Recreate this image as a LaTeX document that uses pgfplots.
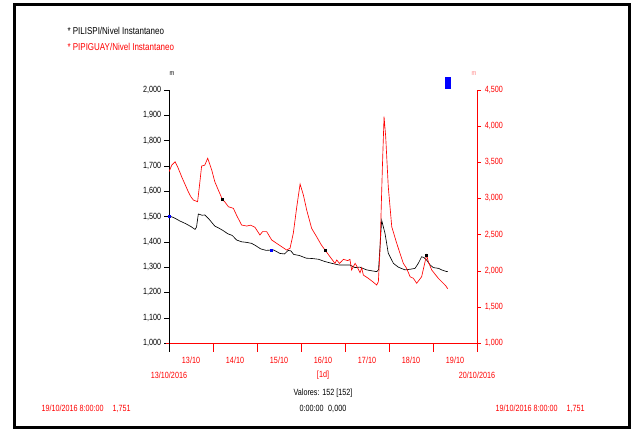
\documentclass[border=0pt]{standalone}
\usepackage{fontspec}
\setmainfont{Liberation Sans}[FakeStretch=0.8]
\usepackage{pgfplots}
\pgfplotsset{compat=1.18}
\definecolor{pred}{RGB}{255,0,0}
\begin{document}
\begin{tikzpicture}[x=1pt,y=1pt]
\useasboundingbox (0,0) rectangle (632,430);
\draw[line width=3pt] (14,2.5) rectangle (629,425.5);
% legend / header texts
\node[anchor=west,font=\fontsize{10}{12}\selectfont,black] at (64,399) {* PILISPI/Nivel Instantaneo};
\node[anchor=west,font=\fontsize{10}{12}\selectfont,pred] at (64,383) {* PIPIGUAY/Nivel Instantaneo};
\node[font=\fontsize{7}{8}\selectfont,black] at (172,356) {m};
\node[font=\fontsize{7}{8}\selectfont,pred!50] at (474,356) {m};
\fill[blue] (445,341) rectangle (451,353);
\begin{axis}[
  at={(169pt,87pt)}, anchor=south west, scale only axis,
  width=308pt, height=253pt,
  xmin=0, xmax=168, ymin=1000, ymax=2000,
  axis x line*=bottom, axis y line*=left,
  x axis line style={pred,-}, y axis line style={black,-},
  tick align=outside,
  xtick={0,24,...,168}, xticklabels={},
  xtick style={pred, /pgfplots/major tick length=9pt},
  extra x ticks={12,36,...,156},
  extra x tick labels={13/10,14/10,15/10,16/10,17/10,18/10,19/10},
  extra x tick style={xtick style={/pgfplots/major tick length=0pt},
     xticklabel style={yshift=-6pt}},
  xticklabel style={pred, font=\fontsize{9}{10}\selectfont},
  ytick={1000,1100,...,2000},
  ytick style={black, /pgfplots/major tick length=5pt},
  yticklabel style={black, font=\fontsize{9}{10}\selectfont,
     /pgf/number format/.cd, fixed, 1000 sep={,}, assume math mode=true},
]
\addplot[black, line width=0.65pt] table {
0 1503
3 1494
6 1482
9 1472
12 1460
14.2 1449
15 1458
16 1510
18 1505
19.6 1506
22 1488
25 1462
27 1455
29.6 1444
32 1432
34.5 1425
36.9 1407
39.6 1400
42 1398
45 1394
47 1386
50 1372
53 1366
57 1368
60.5 1354
63 1352
65 1366
66.5 1364
68 1350
71 1346
75 1335
78 1334
81.5 1331
85 1322
88.7 1315
93 1308
98.7 1308
101.5 1298
104 1300
107.8 1289
110 1286
113.3 1282
114.3 1290
115 1370
116 1485
117.8 1434
119.6 1355
122.4 1315
125 1300
128.7 1289
132 1292
134.2 1295
136 1315
137.8 1341
139 1338
140.5 1328
142.5 1308
144.2 1298
147 1295
149 1288
151.5 1282
152 1283
};
\addplot[only marks, mark=square*, mark size=1pt, blue] table {
0 1503
56 1368
};
\end{axis}
\begin{axis}[
  at={(169pt,87pt)}, anchor=south west, scale only axis,
  width=308pt, height=253pt,
  xmin=0, xmax=168, ymin=1000, ymax=4500,
  axis x line=none, axis y line*=right,
  y axis line style={pred,-},
  tick align=outside,
  ytick={1000,1500,...,4500},
  ytick style={pred, /pgfplots/major tick length=4pt},
  yticklabel style={pred, font=\fontsize{9}{10}\selectfont,
     /pgf/number format/.cd, fixed, 1000 sep={,}, assume math mode=true},
]
\addplot[pred, line width=0.65pt] table {
0 3369
1.5 3460
3.3 3507
5 3420
6.9 3300
9 3180
10.5 3093
12 3020
13.3 2978
15.6 2954
16.5 3150
17.8 3448
19.5 3460
21.1 3555
22.4 3462
23.3 3393
25 3230
26.9 3116
29.1 2987
30.5 2950
32.4 2885
35.1 2863
37 2760
39.6 2632
42.4 2618
44.5 2630
46.9 2600
49.6 2494
51 2540
53.3 2540
56 2425
58.7 2379
61 2340
64.2 2286
66 2310
67.8 2517
69.7 2885
71.5 3199
73.3 3047
75.1 2840
77.8 2586
80.5 2471
83 2360
85.1 2286
87.8 2194
90.5 2102
91.5 2148
93 2100
95.1 2157
97.5 2140
98.7 2157
99.6 2010
101.5 2102
102.5 2060
104.2 1972
105.1 2040
106 1940
108.7 1895
111 1850
113.3 1802
114.2 1848
115.1 2286
116.4 3438
117.3 4130
118.2 3853
119.6 3162
121.5 2608
124.2 2379
127.8 2102
129.6 2033
131.5 1917
133.3 1895
135.1 1826
137.8 1917
140.5 2217
141.5 2120
143.3 2010
146.9 1895
149.6 1826
151 1790
152 1751
};
\addplot[only marks, mark=square*, mark size=1pt, black] table {
29.1 2987
85.1 2286
140.5 2217
};
\end{axis}
% axis line extensions below the time axis
\draw[black] (169,87) -- (169,78);
\draw[pred] (477,87) -- (477,78);
\draw[pred] (166,87) -- (169,87);
% bottom texts
\begin{scope}[font=\fontsize{9}{10}\selectfont]
\node[pred] at (169,55) {13/10/2016};
\node[pred] at (323,55) {[1d]};
\node[pred] at (477,55) {20/10/2016};
\node[black] at (323,37) {Valores: 152 [152]};
\node[black] at (323,21) {0:00:00\enspace 0,000};
\node[pred,anchor=west] at (38,21) {19/10/2016 8:00:00\quad 1,751};
\node[pred,anchor=west] at (492,21) {19/10/2016 8:00:00\quad 1,751};
\end{scope}
\end{tikzpicture}
\end{document}
